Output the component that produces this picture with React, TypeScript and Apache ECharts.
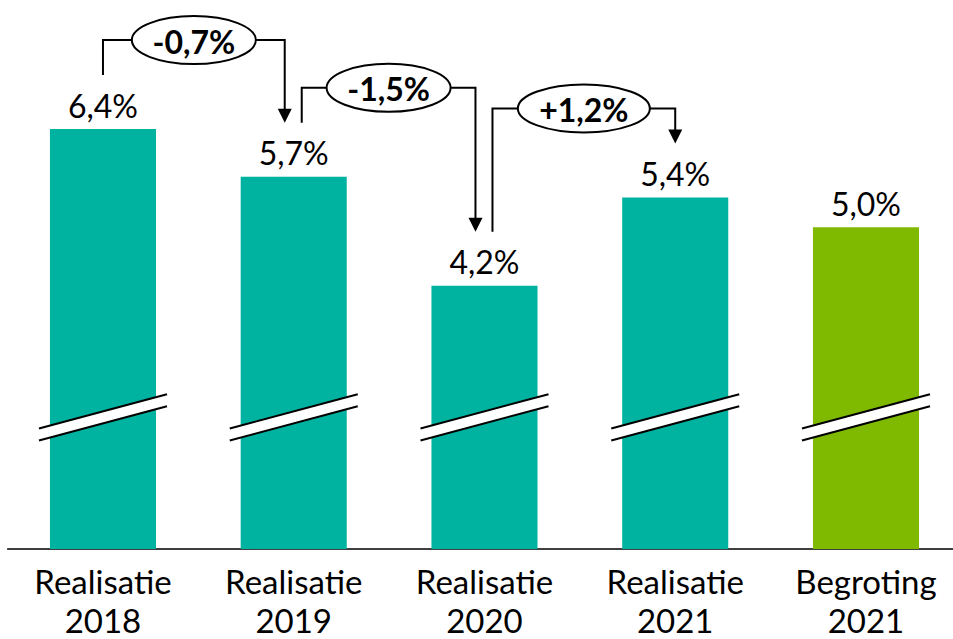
import React, { useEffect, useRef } from "react";
import * as echarts from "echarts";

const categories = [
  "Realisatie\n2018",
  "Realisatie\n2019",
  "Realisatie\n2020",
  "Realisatie\n2021",
  "Begroting\n2021",
];
const values = [6.4, 5.73, 4.2, 5.44, 5.02];
const barColors = ["#00B2A0", "#00B2A0", "#00B2A0", "#00B2A0", "#80BA00"];
const transitions = [
  [0, 1],
  [1, 2],
  [2, 3],
];
const breakValue = 2.35;
const yMin = 0.5;
const yMax = 7;

const FONT = "Lato, 'Noto Sans', sans-serif";
const fmt = (v: number) => v.toFixed(1).replace(".", ",") + "%";
const deltaLabel = (a: number, b: number) => {
  const d = (Math.round(b * 10) - Math.round(a * 10)) / 10;
  return (d > 0 ? "+" : "") + d.toFixed(1).replace(".", ",") + "%";
};

export default function App() {
  const ref = useRef<HTMLDivElement>(null);
  useEffect(() => {
    if (!ref.current) return;
    document.body.style.margin = "0";
    document.body.style.overflow = "hidden";
    const chart = echarts.init(ref.current, undefined, { renderer: "svg" });
    chart.setOption({
      animation: false,
      grid: { left: 7.6, width: 953.75, top: 86.4, bottom: 87.5 },
      xAxis: {
        type: "category",
        data: categories,
        axisLine: { lineStyle: { color: "#000", width: 1.5 } },
        axisTick: { show: false },
        axisLabel: {
          interval: 0,
          fontSize: 33,
          lineHeight: 39,
          color: "#000",
          margin: 12,
          fontFamily: FONT,
        },
      },
      yAxis: {
        type: "value",
        min: yMin,
        max: yMax,
        show: false,
        splitLine: { show: false },
      },
      series: [
        {
          type: "bar",
          barWidth: "55.6%",
          data: values.map((v, i) => ({ value: v, itemStyle: { color: barColors[i] } })),
          label: {
            show: true,
            position: "top",
            distance: 8,
            formatter: (p: any) => fmt(p.value),
            fontSize: 32,
            fontFamily: FONT,
            color: "#000",
          },
          z: 2,
        },
        {
          type: "custom",
          clip: false,
          z: 3,
          data: values.map((_, i) => [i, breakValue]),
          renderItem: (params: any, api: any) => {
            const c = api.coord([api.value(0), api.value(1)]);
            const hw = 64;
            const slope = 17.15;
            const gap = 6;
            const ul = [c[0] - hw, c[1] - gap + slope];
            const ur = [c[0] + hw, c[1] - gap - slope];
            const ll = [c[0] - hw, c[1] + gap + slope];
            const lr = [c[0] + hw, c[1] + gap - slope];
            return {
              type: "group",
              children: [
                { type: "polygon", shape: { points: [ul, ur, lr, ll] }, style: { fill: "#fff" } },
                { type: "line", shape: { x1: ul[0], y1: ul[1], x2: ur[0], y2: ur[1] }, style: { stroke: "#000", lineWidth: 2 } },
                { type: "line", shape: { x1: ll[0], y1: ll[1], x2: lr[0], y2: lr[1] }, style: { stroke: "#000", lineWidth: 2 } },
              ],
            };
          },
        },
        {
          type: "custom",
          clip: false,
          z: 4,
          data: transitions,
          renderItem: (params: any, api: any) => {
            const from = api.value(0);
            const to = api.value(1);
            const p1 = api.coord([from, values[from]]);
            const p2 = api.coord([to, values[to]]);
            const hasIncoming = transitions.some((t) => t[1] === from);
            const hasOutgoing = transitions.some((t) => t[0] === to);
            const x1 = p1[0] + (hasIncoming ? 8 : 0);
            const x2 = p2[0] + (hasOutgoing ? -9 : 0);
            const yStart = p1[1] - 54;
            const yEnd = p2[1] - 54;
            const yLine = Math.min(p1[1], p2[1]) - 89;
            const ah = 14;
            const aw = 7;
            const cx = (x1 + x2) / 2;
            const cy = yLine;
            const label = deltaLabel(values[from], values[to]);
            const rx = label.startsWith("+") ? 66 : 62;
            return {
              type: "group",
              children: [
                {
                  type: "polyline",
                  shape: { points: [[x1, yStart], [x1, yLine], [x2, yLine], [x2, yEnd - ah + 1]] },
                  style: { stroke: "#000", lineWidth: 2, fill: null },
                },
                {
                  type: "polygon",
                  shape: { points: [[x2 - aw, yEnd - ah], [x2 + aw, yEnd - ah], [x2, yEnd]] },
                  style: { fill: "#000" },
                },
                {
                  type: "ellipse",
                  shape: { cx, cy, rx, ry: 24 },
                  style: { fill: "#fff", stroke: "#000", lineWidth: 2 },
                },
                {
                  type: "text",
                  x: cx,
                  y: cy + 1,
                  style: {
                    text: label,
                    fill: "#000",
                    font: `bold 32px ${FONT}`,
                    align: "center",
                    verticalAlign: "middle",
                  },
                },
              ],
            };
          },
        },
      ],
    });
    return () => chart.dispose();
  }, []);
  return (
    <div
      ref={ref}
      style={{ position: "fixed", left: 0, top: 0, width: 962, height: 639, background: "#fff" }}
    />
  );
}
